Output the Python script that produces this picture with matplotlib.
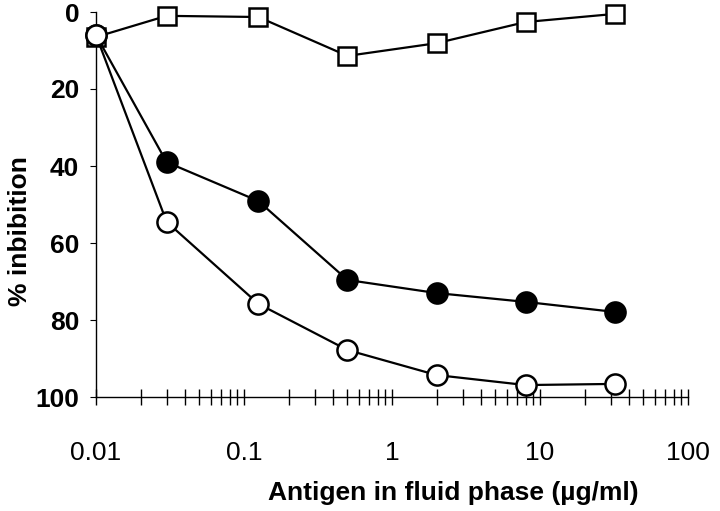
import numpy as np
import matplotlib
matplotlib.use("Agg")
import matplotlib.pyplot as plt
from matplotlib.ticker import LogLocator, FixedLocator

plt.rcParams['font.family'] = ['Liberation Sans', 'DejaVu Sans']

# antigen concentration (ug/ml)
conc = [0.01, 0.03, 0.125, 0.5, 2, 8, 32]

# % inhibition
open_sq = [6.5, 1.0, 1.3, 11.4, 8.1, 2.6, 0.5]
filled_circ = [6.0, 39.0, 49.1, 69.6, 73.0, 75.3, 77.9]
open_circ = [6.0, 54.5, 75.8, 87.8, 94.3, 96.9, 96.6]

y_ticks = [0, 20, 40, 60, 80, 100]
x_ticks = [0.01, 0.1, 1, 10, 100]
x_ticklabels = ["0.01", "0.1", "1", "10", "100"]

fig = plt.figure(figsize=(7.2, 5.11), dpi=100)
ax = fig.add_axes([96/720, 1-397/511, (688-96)/720, (397-12)/511])

ax.plot(conc, open_sq, '-', color='black', lw=1.6, marker='s', ms=13,
        mfc='white', mec='black', mew=1.8, clip_on=False, zorder=3)
ax.plot(conc, filled_circ, '-', color='black', lw=1.6, marker='o', ms=14.5,
        mfc='black', mec='black', mew=1.8, clip_on=False, zorder=4)
ax.plot(conc, open_circ, '-', color='black', lw=1.6, marker='o', ms=14.5,
        mfc='white', mec='black', mew=1.8, clip_on=False, zorder=5)

ax.set_xscale('log')
ax.set_xlim(0.01, 100)
ax.set_ylim(100, 0)

for s in ['top', 'right']:
    ax.spines[s].set_visible(False)
for s in ['left', 'bottom']:
    ax.spines[s].set_linewidth(1.0)

ax.xaxis.set_major_locator(FixedLocator(x_ticks))
ax.set_xticklabels(x_ticklabels)
ax.xaxis.set_minor_locator(LogLocator(base=10, subs=np.arange(2, 10)))
ax.tick_params(axis='x', which='both', direction='inout', length=12, width=1.0,
               labelsize=19, pad=26)
ax.xaxis.set_minor_formatter(plt.NullFormatter())

ax.set_yticks(y_ticks)
ax.tick_params(axis='y', direction='out', length=4, width=0.8, labelsize=19, pad=8)
for lab in ax.get_yticklabels():
    lab.set_fontweight('bold')

fig.text(453/720, 1-493/511, "Antigen in fluid phase (\u00b5g/ml)", ha='center', va='center',
         fontsize=19, fontweight='bold')
fig.text(20/720, 1-231/511, "% inbibition", ha='center', va='center', rotation=90,
         fontsize=19, fontweight='bold')

fig.savefig("out.png", dpi=100)
